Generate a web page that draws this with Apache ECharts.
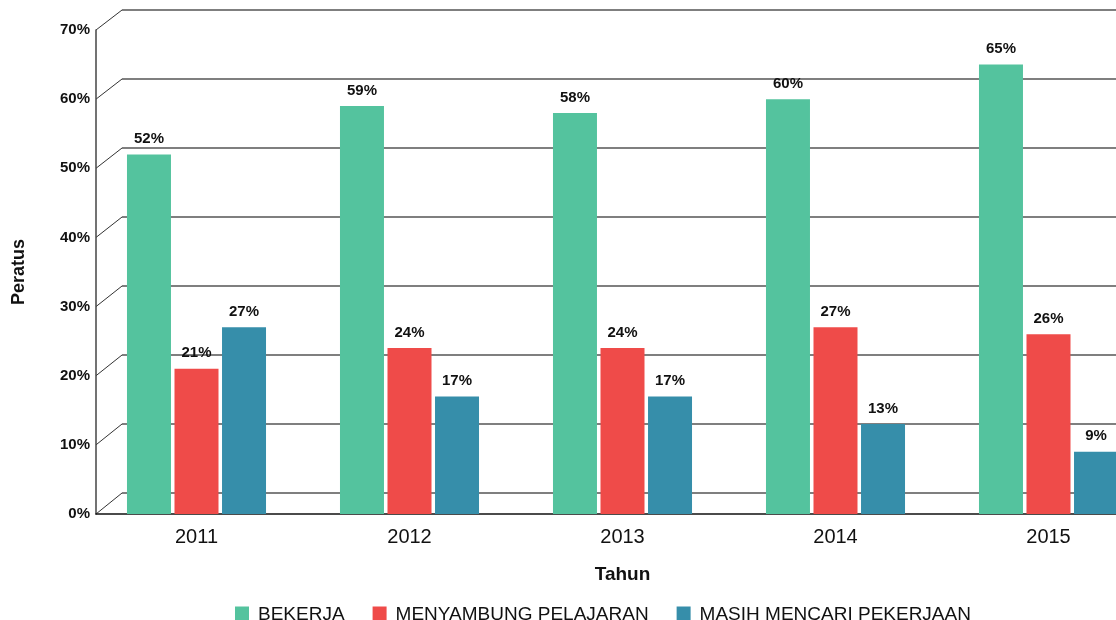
<!DOCTYPE html>
<html>
<head>
<meta charset="utf-8">
<script src="https://cdn.jsdelivr.net/npm/echarts@6/dist/echarts.min.js"></script>
<style>
  html, body { margin: 0; padding: 0; background: #fff; }
  #chart { width: 1116px; height: 620px; }
</style>
</head>
<body>
<div id="chart"></div>
<script>
// data
const years = ["2011", "2012", "2013", "2014", "2015"];
const bekerja = [52, 59, 58, 60, 65];
const menyambung = [21, 24, 24, 27, 26];
const mencari = [27, 17, 17, 13, 9];
const yTicks = [0, 10, 20, 30, 40, 50, 60, 70];

const chart = echarts.init(document.getElementById("chart"));
const font = "Liberation Sans, Arial, sans-serif";

const barLabel = {
  show: true,
  position: "top",
  distance: 8,
  formatter: "{c}%",
  color: "#111",
  fontSize: 15,
  fontWeight: "bold",
  fontFamily: font
};

chart.setOption({
  backgroundColor: "#fff",
  animation: false,
  textStyle: { fontFamily: font },
  legend: {
    top: 600,
    left: 230,
    icon: "rect",
    itemWidth: 14,
    itemHeight: 16,
    itemGap: 28,
    textStyle: { fontSize: 19, color: "#111", fontFamily: font, padding: [0, 0, 0, 4] },
    data: ["BEKERJA", "MENYAMBUNG PELAJARAN", "MASIH MENCARI PEKERJAAN"]
  },
  grid: [
    // bars (runs past the right edge, like the cropped original)
    { left: 90, width: 1065, top: 30, bottom: 106, outerBoundsMode: "none" },
    // back wall
    { left: 122, right: 0, top: 10, bottom: 127, outerBoundsMode: "none" },
    // front axes
    { left: 96, right: 0, top: 30, bottom: 106, outerBoundsMode: "none" }
  ],
  xAxis: [
    {
      gridIndex: 0,
      type: "category",
      data: years,
      axisLine: { show: false },
      axisTick: { show: false },
      axisLabel: { fontSize: 20, color: "#111", margin: 13 },
      name: "Tahun",
      nameLocation: "middle",
      nameGap: 51,
      nameTextStyle: { fontSize: 19, fontWeight: "bold", color: "#111" }
    },
    { gridIndex: 1, type: "value", min: 0, max: 1, show: false },
    {
      gridIndex: 2,
      type: "value",
      min: 0,
      max: 1,
      axisLine: { show: true, lineStyle: { color: "#111", width: 1.5 } },
      axisTick: { show: false },
      axisLabel: { show: false },
      splitLine: { show: false }
    }
  ],
  yAxis: [
    { gridIndex: 0, type: "value", min: 0, max: 70, interval: 10, show: false },
    {
      gridIndex: 1,
      type: "value",
      min: 0,
      max: 70,
      interval: 10,
      axisLine: { show: false },
      axisTick: { show: false },
      axisLabel: { show: false },
      splitLine: { show: true, lineStyle: { color: "#555", width: 1.5 } }
    },
    {
      gridIndex: 2,
      type: "value",
      min: 0,
      max: 70,
      interval: 10,
      axisLine: { show: true, lineStyle: { color: "#444", width: 1.5 } },
      axisTick: { show: false },
      splitLine: { show: false },
      axisLabel: {
        formatter: "{value}%",
        fontSize: 15,
        fontWeight: "bold",
        color: "#111",
        margin: 6
      },
      name: "Peratus",
      nameLocation: "middle",
      nameRotate: 90,
      nameGap: 68,
      nameTextStyle: { fontSize: 18, fontWeight: "bold", color: "#111" }
    }
  ],
  series: [
    {
      name: "BEKERJA",
      type: "bar",
      data: bekerja,
      barWidth: 44,
      barGap: "8%",
      itemStyle: { color: "#54C39E" },
      label: barLabel
    },
    {
      name: "MENYAMBUNG PELAJARAN",
      type: "bar",
      data: menyambung,
      barWidth: 44,
      barGap: "8%",
      itemStyle: { color: "#EF4B49" },
      label: barLabel
    },
    {
      name: "MASIH MENCARI PEKERJAAN",
      type: "bar",
      data: mencari,
      barWidth: 44,
      barGap: "8%",
      itemStyle: { color: "#368EAA" },
      label: barLabel
    }
  ]
});

// slanted connectors from the front axis to the back wall gridlines
const connectors = yTicks.map(function (v) {
  const a = chart.convertToPixel({ gridIndex: 2 }, [0, v]);
  const b = chart.convertToPixel({ gridIndex: 1 }, [0, v]);
  return {
    type: "line",
    z: 0,
    shape: { x1: a[0], y1: a[1], x2: b[0], y2: b[1] },
    style: { stroke: "#333", lineWidth: 1 }
  };
});
chart.setOption({ graphic: connectors });
</script>
</body>
</html>
